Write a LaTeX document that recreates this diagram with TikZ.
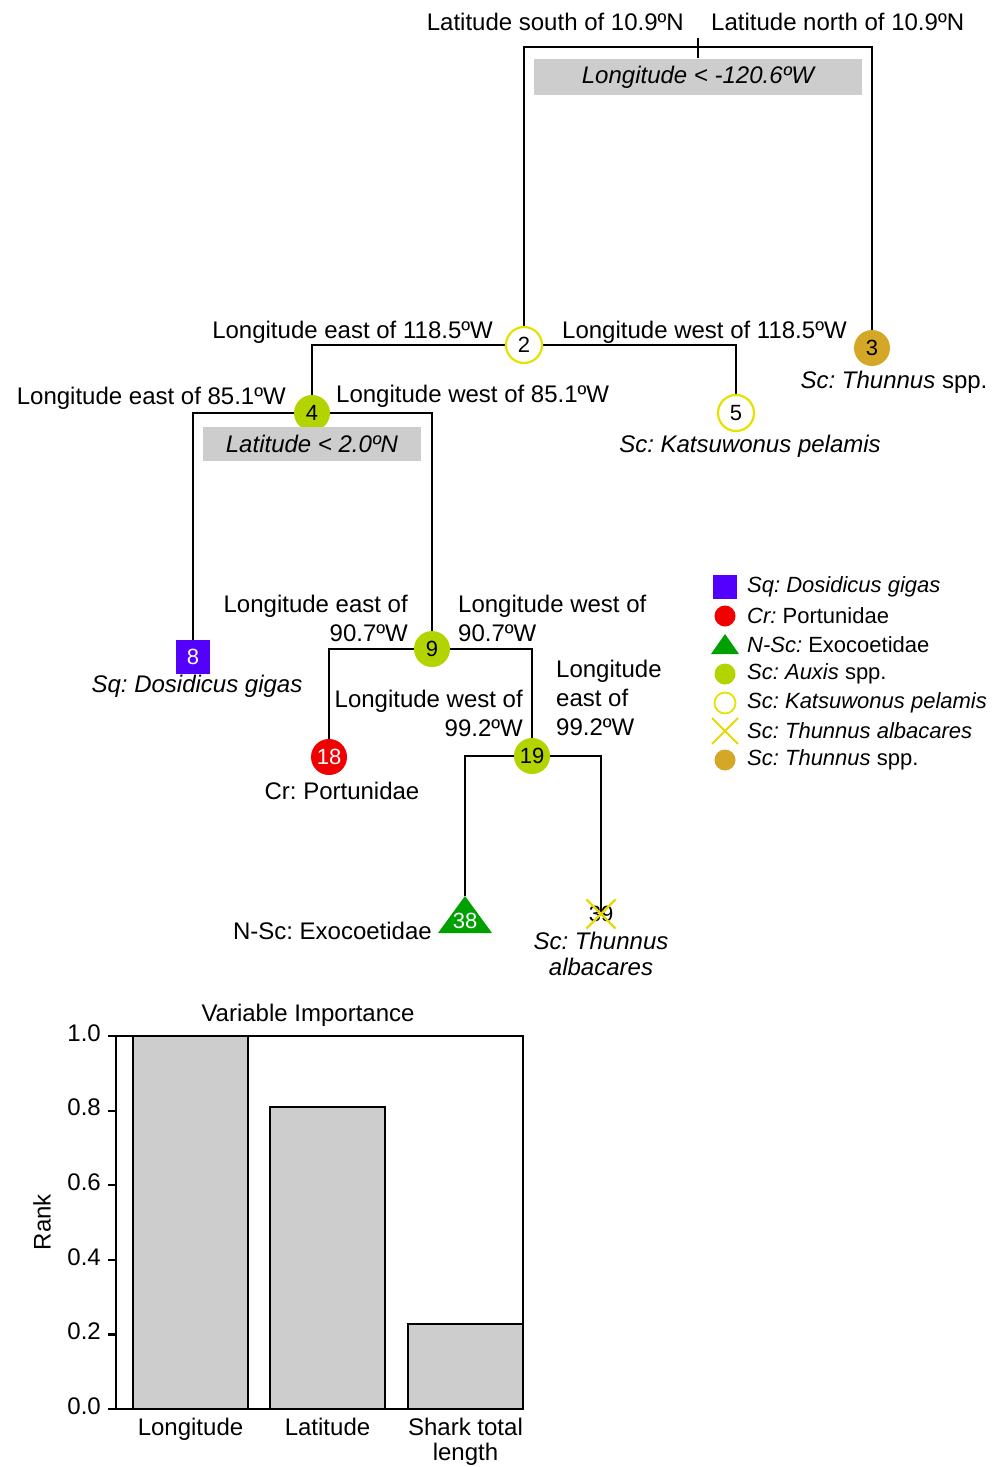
\documentclass[tikz,border=0pt]{standalone}
\usepackage{fontspec}
\setmainfont{Liberation Sans}
\frenchspacing
\usetikzlibrary{backgrounds,shapes.misc}
\definecolor{auxiscol}{RGB}{180,212,0}
\definecolor{katsucol}{RGB}{230,226,0}
\definecolor{thunnuscol}{RGB}{212,168,38}
\definecolor{albacol}{RGB}{232,216,0}
\definecolor{portucol}{RGB}{240,0,0}
\definecolor{dosicol}{RGB}{84,0,255}
\definecolor{exocol}{RGB}{0,160,0}
\definecolor{rulegray}{RGB}{205,205,205}
\begin{document}
\begin{tikzpicture}[x=1pt, y=-1pt, every node/.style = {inner sep=0pt, font=\fontsize{24}{29}\selectfont}]
	\tikzstyle{num} = [circle, minimum size=36pt, line width=2.2pt, font=\fontsize{22}{22}\selectfont]
	\tikzstyle{auxis} = [num, fill=auxiscol]
	\tikzstyle{katsu} = [num, fill=white, draw=katsucol]
	\tikzstyle{thunnus} = [num, fill=thunnuscol]
	\tikzstyle{portu} = [num, fill=portucol, text=white]
	\tikzstyle{dosi} = [num, rectangle, minimum size=34pt, fill=dosicol, text=white]
	\tikzstyle{albac} = [num, cross out, draw=albacol, minimum size=27pt]
	\tikzstyle{rule} = [fill=rulegray, font=\fontsize{24}{29}\selectfont\itshape]
	\tikzstyle{leafit} = [font=\fontsize{24}{26}\selectfont\itshape]
	\tikzstyle{legend} = [anchor=west, font=\fontsize{22}{29}\selectfont]
	\tikzstyle{ldot} = [circle, minimum size=21pt]
	\tikzstyle{branch} = [draw=black, line width=2.2pt]
	\tikzstyle{bar} = [fill=rulegray, draw=black, line width=1.8pt]
	\useasboundingbox (0,0) rectangle (1003,1467);
	% tree
	\coordinate (root) at (698,47);
	\coordinate (tickA) at (698,38);
	\coordinate (tickB) at (698,58);
	\node[katsu] (n2) at (524,345) {2};
	\node[thunnus] (n3) at (872,348) {3};
	\node[auxis] (n4) at (312,413) {4};
	\node[katsu] (n5) at (736,413) {5};
	\node[dosi] (n8) at (193,657) {8};
	\node[auxis] (n9) at (432,649) {9};
	\node[portu] (n18) at (329,757) {18};
	\node[auxis] (n19) at (532,756) {19};
	\coordinate (n38) at (465,896);
	\fill[exocol] (n38) -- ++(27,37) -- ++(-54,0) -- cycle;
	\node[font=\fontsize{22}{22}\selectfont, text=white] (t38) at (465,921) {38};
	\node[albac] (n39) at (601,914) {39};
	\node[rule, minimum width=328pt, minimum height=36pt] (r1) at (698,77) {Longitude < -120.6ºW};
	\node[rule, minimum width=218pt, minimum height=34pt] (r4) at (312,444) {Latitude < 2.0ºN};
	\node[anchor=east] (s1) at (684,22) {Latitude south of 10.9ºN};
	\node[anchor=west] (s2) at (711,22) {Latitude north of 10.9ºN};
	\node[anchor=east] (s3) at (493,332) {Longitude east of 118.5ºW};
	\node[anchor=west] (s4) at (562,332) {Longitude west of 118.5ºW};
	\node[anchor=east] (s5) at (286,398) {Longitude east of 85.1ºW};
	\node[anchor=west] (s6) at (336,396) {Longitude west of 85.1ºW};
	\node[anchor=east, align=right] (s7) at (408,618) {Longitude east of\\90.7ºW};
	\node[anchor=west, align=left] (s8) at (458,618) {Longitude west of\\90.7ºW};
	\node[anchor=east, align=right] (s9) at (523,713) {Longitude west of\\99.2ºW};
	\node[anchor=west, align=left] (s10) at (556,698) {Longitude\\east of\\99.2ºW};
	\node (l3) at (894,382) {\textit{Sc: Thunnus} spp.};
	\node[leafit] (l5) at (750,446) {Sc: Katsuwonus pelamis};
	\node[leafit] (l8) at (197,686) {Sq: Dosidicus gigas};
	\node (l18) at (342,791) {Cr: Portunidae};
	\node[anchor=east] (l38) at (432,931) {N-Sc: Exocoetidae};
	\node[leafit, align=center] (l39) at (601,954) {Sc: Thunnus\\albacares};
	\begin{scope}[on background layer]
		\draw[branch] (n2.center) |- (root) -| (n3.center);
		\draw[branch, line width=1.8pt] (tickA) -- (tickB);
		\draw[branch] (n2.center) -| (n4.center);
		\draw[branch] (n2.center) -| (n5.center);
		\draw[branch] (n4.center) -| (n8.center);
		\draw[branch] (n4.center) -| (n9.center);
		\draw[branch] (n9.center) -| (n18.center);
		\draw[branch] (n9.center) -| (n19.center);
		\draw[branch] (n19.center) -| (n38);
		\draw[branch] (n19.center) -| (n39.center);
	\end{scope}
	% legend
	\node[rectangle, minimum size=24pt, fill=dosicol] (m1) at (725,587) {};
	\node[ldot, fill=portucol] (m2) at (725,616) {};
	\coordinate (m3) at (725,634);
	\fill[exocol] (m3) -- ++(14,20) -- ++(-28,0) -- cycle;
	\node[ldot, fill=auxiscol] (m4) at (725,674) {};
	\node[ldot, fill=white, draw=katsucol, line width=1.8pt] (m5) at (725,703) {};
	\node[cross out, draw=albacol, line width=1.8pt, minimum size=24pt] (m6) at (725,731) {};
	\node[ldot, fill=thunnuscol] (m7) at (725,760) {};
	\foreach \y/\t [count=\i] in {587/\textit{Sq: Dosidicus gigas}, 616/\textit{Cr:} Portunidae, 645/\textit{N-Sc:} Exocoetidae, 674/\textit{Sc: Auxis} spp., 703/\textit{Sc: Katsuwonus pelamis}, 731/\textit{Sc: Thunnus albacares}, 760/\textit{Sc: Thunnus} spp.}
		\node[legend] (k\i) at (747,\y) {\t};
	% variable importance
	\node (vtitle) at (308,1015) {Variable Importance};
	\node[rotate=90] (rank) at (42,1222) {Rank};
	\foreach \a/\b/\v/\n [count=\i] in {133/248/1.0/Longitude, 270/385/0.81/Latitude, 408/523/0.228/{Shark total\\length}} {
		\draw[bar] (\a,1409) rectangle (\b,{1409-373*\v});
		\node[anchor=north, align=center, font=\fontsize{24}{25}\selectfont] (x\i) at ({(\a+\b)/2},1418) {\n};
	}
	\draw[branch] (116,1036) rectangle (523,1409);
	\foreach \v/\t in {0/0.0, 1/0.2, 2/0.4, 3/0.6, 4/0.8, 5/1.0} {
		\draw[branch] (108,{1409-74.6*\v}) -- (116,{1409-74.6*\v});
		\node[anchor=east] (y\v) at (101,{1406-74.6*\v}) {\t};
	}
\end{tikzpicture}
\end{document}
